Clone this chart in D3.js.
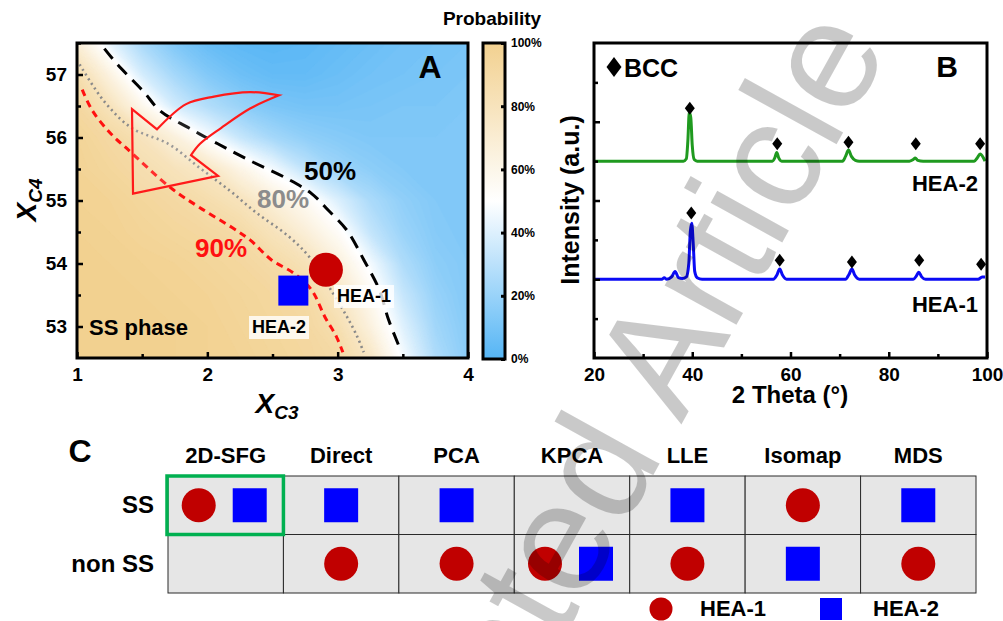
<!DOCTYPE html>
<html>
<head>
<meta charset="utf-8">
<script src="https://cdnjs.cloudflare.com/ajax/libs/d3/7.8.5/d3.min.js"></script>
<style>
body { margin: 0; background: #fff; }
</style>
</head>
<body>
<svg id="fig" width="1003" height="621"></svg>
<script>
// ---- panel A data ----
var gridX = [1, 1.25, 1.5, 1.75, 2, 2.25, 2.5, 2.75, 3, 3.25, 3.5, 3.75, 4];
var gridY = [57.5, 57, 56.5, 56, 55.5, 55, 54.5, 54, 53.5, 53, 52.5];
var probGrid = [
    [0.68, 0.43, 0.25, 0.13, 0.06, 0.03, 0.02, 0.03, 0.05, 0.07, 0.09, 0.10, 0.11],
    [0.87, 0.64, 0.38, 0.24, 0.14, 0.08, 0.05, 0.05, 0.07, 0.09, 0.10, 0.11, 0.12],
    [0.93, 0.81, 0.59, 0.37, 0.25, 0.17, 0.12, 0.10, 0.10, 0.11, 0.12, 0.12, 0.13],
    [0.97, 0.92, 0.84, 0.68, 0.49, 0.34, 0.24, 0.18, 0.15, 0.13, 0.13, 0.13, 0.13],
    [0.98, 0.95, 0.91, 0.85, 0.78, 0.62, 0.47, 0.32, 0.22, 0.17, 0.14, 0.13, 0.13],
    [0.99, 0.98, 0.95, 0.92, 0.87, 0.81, 0.68, 0.56, 0.40, 0.26, 0.18, 0.14, 0.13],
    [1.00, 0.99, 0.97, 0.95, 0.93, 0.90, 0.81, 0.68, 0.54, 0.33, 0.21, 0.15, 0.13],
    [1.00, 1.00, 0.99, 0.98, 0.96, 0.94, 0.90, 0.83, 0.67, 0.47, 0.27, 0.17, 0.14],
    [1.00, 1.00, 1.00, 0.99, 0.98, 0.96, 0.94, 0.91, 0.78, 0.57, 0.34, 0.20, 0.14],
    [1.00, 1.00, 1.00, 1.00, 0.99, 0.97, 0.95, 0.93, 0.86, 0.65, 0.41, 0.23, 0.15],
    [1.00, 1.00, 1.00, 1.00, 0.99, 0.98, 0.96, 0.94, 0.91, 0.77, 0.48, 0.27, 0.16]
];
var line50 = [[1.21, 57.41], [1.31, 57.16], [1.51, 56.73], [1.64, 56.42], [1.86, 56.15], [2.08, 55.90],
    [2.33, 55.63], [2.60, 55.36], [2.80, 55.11], [2.93, 54.84], [3.07, 54.53], [3.20, 54.06],
    [3.32, 53.58], [3.39, 53.11], [3.48, 52.64]];
var line80 = [[1.02, 57.16], [1.21, 56.57], [1.42, 56.15], [1.70, 55.90], [1.94, 55.52], [2.17, 55.16],
    [2.38, 54.80], [2.63, 54.42], [2.80, 54.06], [2.96, 53.54], [3.07, 53.16], [3.15, 52.84], [3.20, 52.59]];
var line90 = [[1.04, 56.76], [1.12, 56.42], [1.26, 56.06], [1.38, 55.83], [1.72, 55.20], [1.94, 54.89],
    [2.19, 54.57], [2.33, 54.37], [2.49, 54.06], [2.66, 53.85], [2.80, 53.58], [2.90, 53.16],
    [2.99, 52.84], [3.04, 52.59]];
var arrowHead = [[1.614, 56.13], [1.422, 56.45], [1.430, 55.11], [2.082, 55.39], [1.875, 55.72]];
var arrowTailLower = [[1.875, 55.72], [1.944, 55.90], [2.105, 56.15], [2.328, 56.46], [2.550, 56.67]];
var arrowTailUpper = [[2.550, 56.67], [2.328, 56.72], [2.051, 56.65], [1.837, 56.53], [1.614, 56.13]];
var hea1Point = [2.91, 53.90];
var hea2Point = [2.66, 53.57];
var probTicks = [0, 0.2, 0.4, 0.6, 0.8, 1];

// ---- panel B data (2 theta, intensity a.u.) ----
var xrdHEA1 = [[20, 1.0], [33.8, 1.0], [34.3, 1.02], [34.8, 1.0], [35.8, 1.03], [36.5, 1.1], [37.2, 1.02],
    [38.0, 1.01], [38.8, 1.03], [39.3, 1.2], [39.6, 1.6], [39.9, 1.71], [40.2, 1.45], [40.5, 1.1],
    [41.0, 1.02], [42, 1.0], [56.5, 1.0], [57.2, 1.05], [57.8, 1.13], [58.4, 1.05], [59.2, 1.0],
    [71.2, 1.0], [71.9, 1.06], [72.5, 1.13], [73.1, 1.05], [74, 1.0], [85.0, 1.0], [85.6, 1.04],
    [86.1, 1.09], [86.7, 1.03], [87.5, 1.0], [98.2, 1.0], [99, 1.03], [99.6, 1.03]];
var xrdHEA2 = [[20, 2.5], [38.2, 2.5], [38.8, 2.53], [39.1, 2.75], [39.4, 3.12], [39.7, 3.05], [40.0, 2.7],
    [40.4, 2.52], [41, 2.5], [56.3, 2.5], [56.8, 2.54], [57.2, 2.61], [57.6, 2.54], [58.2, 2.5],
    [70.6, 2.5], [71.2, 2.56], [71.8, 2.64], [72.4, 2.56], [73.2, 2.51], [74, 2.5], [84.2, 2.5],
    [85.0, 2.52], [85.4, 2.54], [85.9, 2.51], [87, 2.5], [97.4, 2.5], [98.0, 2.54], [98.6, 2.59],
    [99.2, 2.55], [99.6, 2.5]];
var bccHEA1 = [[39.8, 1.84], [57.8, 1.24], [72.5, 1.22], [86.2, 1.24], [98.8, 1.19]];
var bccHEA2 = [[39.5, 3.17], [57.3, 2.72], [71.8, 2.74], [85.5, 2.72], [98.6, 2.72]];

// ---- panel C data ----
var methods = ['2D-SFG', 'Direct', 'PCA', 'KPCA', 'LLE', 'Isomap', 'MDS'];
var phases = ['SS', 'non SS'];
var predHEA1 = ['SS', 'non SS', 'non SS', 'non SS', 'non SS', 'SS', 'non SS'];
var predHEA2 = ['SS', 'SS', 'SS', 'non SS', 'SS', 'non SS', 'SS'];

var FONT = 'Arial, "Liberation Sans", sans-serif';
var svg = d3.select('#fig')
    .attr('font-family', FONT)
    .attr('font-weight', 'bold');
var defs = svg.append('defs');

function styleAxis(g, fs) {
    g.attr('font-family', FONT).attr('font-size', fs).attr('font-weight', 'bold');
    g.select('.domain').remove();
    g.selectAll('line').attr('stroke', '#000').attr('stroke-width', 2.5);
    g.selectAll('text').attr('fill', '#000');
}

var diamond = function (w, h) {
    return 'M0,' + (-h / 2) + 'L' + (w / 2) + ',0L0,' + (h / 2) + 'L' + (-w / 2) + ',0Z';
};

// =============== panel A ===============
var xA = d3.scaleLinear().domain([1, 4]).range([77, 468]);
var yA = d3.scaleLinear().domain([52.5, 57.5]).range([358, 43]);
var probColor = d3.scaleLinear().domain([0, 0.5, 1]).range(['#55b5f5', '#ffffff', '#f2d190']);

defs.append('clipPath').attr('id', 'clipA').append('rect')
    .attr('x', xA(1)).attr('y', yA(57.5))
    .attr('width', xA(4) - xA(1)).attr('height', yA(52.5) - yA(57.5));

var gA = svg.append('g');
var heat = gA.append('g').attr('clip-path', 'url(#clipA)');

var stepX = gridX[1] - gridX[0], stepY = gridY[0] - gridY[1];
var gridProj = d3.geoTransform({
    point: function (cx, cy) {
        this.stream.point(xA(gridX[0] + (cx - 0.5) * stepX), yA(gridY[0] - (cy - 0.5) * stepY));
    }
});
var bands = d3.contours()
    .size([gridX.length, gridY.length])
    .thresholds(d3.range(0, 1.001, 0.01))([].concat.apply([], probGrid));
heat.selectAll('path.band').data(bands).enter().append('path')
    .attr('class', 'band')
    .attr('d', d3.geoPath(gridProj))
    .attr('fill', function (d) { return probColor(d.value); })
    .attr('stroke', function (d) { return probColor(d.value); })
    .attr('stroke-width', 0.5);

var lineA = d3.line().x(function (d) { return xA(d[0]); }).y(function (d) { return yA(d[1]); })
    .curve(d3.curveCatmullRom);
heat.append('path').attr('d', lineA(line50)).attr('fill', 'none')
    .attr('stroke', '#000').attr('stroke-width', 3).attr('stroke-dasharray', '13,8');
heat.append('path').attr('d', lineA(line80)).attr('fill', 'none')
    .attr('stroke', '#8a8a8a').attr('stroke-width', 2.6).attr('stroke-dasharray', '2,3.5');
heat.append('path').attr('d', lineA(line90)).attr('fill', 'none')
    .attr('stroke', '#ff1010').attr('stroke-width', 3).attr('stroke-dasharray', '7,5');

// curved arrow
var straightA = d3.line().x(function (d) { return xA(d[0]); }).y(function (d) { return yA(d[1]); });
var stripM = function (s) { return s.replace(/^M[^CL]*/, ''); };
var arrowPath = straightA(arrowHead) + stripM(lineA(arrowTailLower)) + stripM(lineA(arrowTailUpper)) + 'Z';
gA.append('path').attr('d', arrowPath)
    .attr('fill', '#ffffff').attr('fill-opacity', 0.12)
    .attr('stroke', '#ff1a1a').attr('stroke-width', 2.2).attr('stroke-linejoin', 'miter');

gA.append('text').attr('x', 304).attr('y', 180).attr('font-size', 26).attr('fill', '#000').text('50%');
gA.append('text').attr('x', 257).attr('y', 208).attr('font-size', 26).attr('fill', '#8c8c8c').text('80%');
gA.append('text').attr('x', 195).attr('y', 257).attr('font-size', 26).attr('fill', '#ff1010').text('90%');
gA.append('text').attr('x', 89).attr('y', 335).attr('font-size', 22).attr('fill', '#000').text('SS phase');

// markers
gA.append('circle').attr('cx', xA(hea1Point[0])).attr('cy', yA(hea1Point[1])).attr('r', 17)
    .attr('fill', '#c80000');
gA.append('rect').attr('x', xA(hea2Point[0]) - 15).attr('y', yA(hea2Point[1]) - 15)
    .attr('width', 30).attr('height', 30).attr('fill', '#0000ff');

function boxedLabel(g, x, y, txt, fs) {
    var box = g.append('rect');
    var t = g.append('text').attr('x', x).attr('y', y).attr('font-size', fs).attr('fill', '#000').text(txt);
    var bb = t.node().getBBox();
    box.attr('x', bb.x - 3).attr('y', bb.y - 1).attr('width', bb.width + 6).attr('height', bb.height + 3)
        .attr('fill', '#ffffff').attr('fill-opacity', 0.8);
}
boxedLabel(gA, 337, 302, 'HEA-1', 18);
boxedLabel(gA, 252, 333, 'HEA-2', 18);

gA.append('text').attr('x', 430).attr('y', 78).attr('text-anchor', 'middle')
    .attr('font-size', 32).text('A');

gA.append('rect').attr('x', xA(1)).attr('y', yA(57.5))
    .attr('width', xA(4) - xA(1)).attr('height', yA(52.5) - yA(57.5))
    .attr('fill', 'none').attr('stroke', '#000').attr('stroke-width', 3);

gA.append('g').attr('transform', 'translate(0,' + yA(52.5) + ')')
    .call(d3.axisBottom(xA).tickValues([1, 2, 3, 4]).tickFormat(d3.format('d')).tickSize(-6).tickPadding(10))
    .call(styleAxis, 19);
gA.append('g').attr('transform', 'translate(0,' + yA(52.5) + ')')
    .call(d3.axisBottom(xA).tickValues([1.5, 2.5, 3.5]).tickFormat('').tickSize(-4))
    .call(styleAxis, 19);
gA.append('g').attr('transform', 'translate(' + xA(1) + ',0)')
    .call(d3.axisLeft(yA).tickValues([53, 54, 55, 56, 57]).tickFormat(d3.format('d')).tickSize(-6).tickPadding(10))
    .call(styleAxis, 19);
gA.append('g').attr('transform', 'translate(' + xA(1) + ',0)')
    .call(d3.axisLeft(yA).tickValues([53.5, 54.5, 55.5, 56.5, 57.5]).tickFormat('').tickSize(-4))
    .call(styleAxis, 19);

var xLab = gA.append('text').attr('x', 277).attr('y', 413).attr('text-anchor', 'middle')
    .attr('font-style', 'italic').attr('font-size', 28);
xLab.append('tspan').text('X');
xLab.append('tspan').attr('font-size', 19).attr('dy', 6).text('C3');
var yLab = gA.append('text').attr('transform', 'translate(36,200) rotate(-90)').attr('text-anchor', 'middle')
    .attr('font-style', 'italic').attr('font-size', 28);
yLab.append('tspan').text('X');
yLab.append('tspan').attr('font-size', 19).attr('dy', 6).text('C4');

// colorbar
var yCb = d3.scaleLinear().domain([0, 1]).range([359, 43]);
var grad = defs.append('linearGradient').attr('id', 'cbGrad')
    .attr('x1', 0).attr('y1', 1).attr('x2', 0).attr('y2', 0);
d3.range(0, 1.001, 0.1).forEach(function (v) {
    grad.append('stop').attr('offset', v).attr('stop-color', probColor(v));
});
gA.append('rect').attr('x', 483).attr('y', yCb(1)).attr('width', 22).attr('height', yCb(0) - yCb(1))
    .attr('fill', 'url(#cbGrad)').attr('stroke', '#000').attr('stroke-width', 3);
gA.append('g').attr('transform', 'translate(505,0)')
    .call(d3.axisRight(yCb).tickValues(probTicks).tickFormat(d3.format('.0%')).tickSize(-4).tickPadding(6))
    .call(styleAxis, 12)
    .call(function (g) { g.selectAll('line').attr('stroke-width', 3); });
gA.append('text').attr('x', 492).attr('y', 25).attr('text-anchor', 'middle').attr('font-size', 19)
    .text('Probability');

// =============== panel B ===============
var xB = d3.scaleLinear().domain([20, 100]).range([594, 987]);
var yB = d3.scaleLinear().domain([0, 4]).range([358, 43]);
var gB = svg.append('g');
defs.append('clipPath').attr('id', 'clipB').append('rect')
    .attr('x', xB(20)).attr('y', yB(4)).attr('width', xB(100) - xB(20)).attr('height', yB(0) - yB(4));

var lineB = d3.line().x(function (d) { return xB(d[0]); }).y(function (d) { return yB(d[1]); })
    .curve(d3.curveMonotoneX);
var plotB = gB.append('g').attr('clip-path', 'url(#clipB)');
plotB.append('path').attr('d', lineB(xrdHEA2)).attr('fill', 'none')
    .attr('stroke', '#1f9a1f').attr('stroke-width', 3).attr('stroke-linejoin', 'round');
plotB.append('path').attr('d', lineB(xrdHEA1)).attr('fill', 'none')
    .attr('stroke', '#0a0af5').attr('stroke-width', 3).attr('stroke-linejoin', 'round');
gB.selectAll('path.bcc').data(bccHEA1.concat(bccHEA2)).enter().append('path')
    .attr('class', 'bcc')
    .attr('transform', function (d) { return 'translate(' + xB(d[0]) + ',' + yB(d[1]) + ')'; })
    .attr('d', diamond(10, 13)).attr('fill', '#000');

gB.append('path').attr('transform', 'translate(614,67)').attr('d', diamond(15, 20)).attr('fill', '#000');
gB.append('text').attr('x', 624).attr('y', 77).attr('font-size', 25).text('BCC');
gB.append('text').attr('x', 947).attr('y', 77).attr('text-anchor', 'middle').attr('font-size', 30).text('B');
gB.append('text').attr('x', 978).attr('y', 191).attr('text-anchor', 'end').attr('font-size', 22).text('HEA-2');
gB.append('text').attr('x', 978).attr('y', 312).attr('text-anchor', 'end').attr('font-size', 22).text('HEA-1');

gB.append('rect').attr('x', xB(20)).attr('y', yB(4)).attr('width', xB(100) - xB(20)).attr('height', yB(0) - yB(4))
    .attr('fill', 'none').attr('stroke', '#000').attr('stroke-width', 3);
gB.append('g').attr('transform', 'translate(0,' + yB(0) + ')')
    .call(d3.axisBottom(xB).tickValues([20, 40, 60, 80, 100]).tickSize(-6).tickPadding(10))
    .call(styleAxis, 19);
gB.append('g').attr('transform', 'translate(0,' + yB(0) + ')')
    .call(d3.axisBottom(xB).tickValues([30, 50, 70, 90]).tickFormat('').tickSize(-4))
    .call(styleAxis, 19);
gB.append('g').attr('transform', 'translate(' + xB(20) + ',0)')
    .call(d3.axisLeft(yB).tickValues([1, 2, 3]).tickFormat('').tickSize(-6))
    .call(styleAxis, 19);
gB.append('g').attr('transform', 'translate(' + xB(20) + ',0)')
    .call(d3.axisLeft(yB).tickValues([0.5, 1.5, 2.5, 3.5]).tickFormat('').tickSize(-4))
    .call(styleAxis, 19);
gB.append('text').attr('x', 790).attr('y', 403).attr('text-anchor', 'middle').attr('font-size', 24)
    .text('2 Theta (\u00b0)');
gB.append('text').attr('transform', 'translate(579,200) rotate(-90)').attr('text-anchor', 'middle')
    .attr('font-size', 25).text('Intensity (a.u.)');

// =============== panel C ===============
var gC = svg.append('g');
var colX = d3.scaleBand().domain(methods).range([168, 976]);
var rowY = d3.scaleBand().domain(phases).range([476, 593]);

methods.forEach(function (m) {
    phases.forEach(function (p) {
        gC.append('rect').attr('x', colX(m)).attr('y', rowY(p))
            .attr('width', colX.bandwidth()).attr('height', rowY.bandwidth())
            .attr('fill', '#e6e6e6').attr('stroke', '#2a2a2a').attr('stroke-width', 1);
    });
});
gC.append('rect').attr('x', colX('2D-SFG') - 1).attr('y', rowY('SS'))
    .attr('width', colX.bandwidth() + 1).attr('height', rowY.bandwidth())
    .attr('fill', 'none').attr('stroke', '#00b050').attr('stroke-width', 3.5);

gC.selectAll('text.head').data(methods).enter().append('text')
    .attr('class', 'head')
    .attr('x', function (d) { return colX(d) + colX.bandwidth() / 2; })
    .attr('y', 463).attr('text-anchor', 'middle').attr('font-size', 22)
    .text(function (d) { return d; });
gC.selectAll('text.row').data(phases).enter().append('text')
    .attr('class', 'row')
    .attr('x', 154).attr('y', function (d) { return rowY(d) + rowY.bandwidth() / 2 + 8; })
    .attr('text-anchor', 'end').attr('font-size', 24)
    .text(function (d) { return d; });
gC.append('text').attr('x', 80).attr('y', 462).attr('text-anchor', 'middle').attr('font-size', 32).text('C');

methods.forEach(function (m, i) {
    var same = predHEA1[i] === predHEA2[i];
    var cx = colX(m) + colX.bandwidth() / 2;
    gC.append('circle')
        .attr('cx', same ? cx - 27 : cx)
        .attr('cy', rowY(predHEA1[i]) + rowY.bandwidth() / 2)
        .attr('r', 17).attr('fill', '#c00000');
    gC.append('rect')
        .attr('x', (same ? cx + 24 : cx) - 17)
        .attr('y', rowY(predHEA2[i]) + rowY.bandwidth() / 2 - 17)
        .attr('width', 34).attr('height', 34).attr('fill', '#0000ff');
});

// legend
gC.append('circle').attr('cx', 661).attr('cy', 609).attr('r', 11.5).attr('fill', '#c00000');
gC.append('text').attr('x', 700).attr('y', 616).attr('font-size', 22).text('HEA-1');
gC.append('rect').attr('x', 820).attr('y', 598).attr('width', 22).attr('height', 22).attr('fill', '#0000ff');
gC.append('text').attr('x', 873).attr('y', 616).attr('font-size', 22).text('HEA-2');

// watermark
svg.append('text').attr('transform', 'translate(890,48) rotate(-61)')
    .attr('text-anchor', 'end').attr('font-size', 155).attr('font-weight', 'normal')
    .attr('font-family', '"Liberation Sans", Arial, sans-serif')
    .attr('fill', '#000').attr('fill-opacity', 0.21)
    .text('Accepted Article');
</script>
</body>
</html>
